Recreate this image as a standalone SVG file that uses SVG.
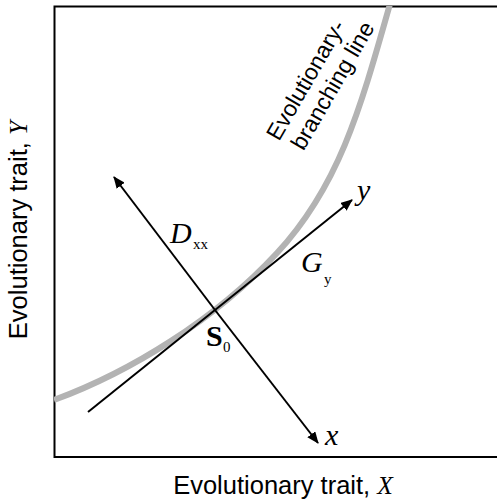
<svg xmlns="http://www.w3.org/2000/svg" width="497" height="502" viewBox="0 0 497 502">
<defs>
<style>
.ax{stroke:#000;stroke-width:2;fill:none}
.lab{font-family:"Liberation Sans",Arial,sans-serif;font-size:25.5px;fill:#000}
.bl{font-family:"Liberation Sans",Arial,sans-serif;font-size:23px;fill:#000}
.m{font-family:"Liberation Serif","Times New Roman",serif;font-size:30px;fill:#000}
.it{font-style:italic}
.sub{font-family:"Liberation Serif","Times New Roman",serif;font-size:15px;fill:#000}
</style>
<marker id="ah" viewBox="0 0 12 10" refX="11" refY="5" markerWidth="12" markerHeight="10" markerUnits="userSpaceOnUse" orient="auto">
<path d="M0,0 L12,5 L0,10 Z" fill="#000"/>
</marker>
<clipPath id="box"><rect x="54" y="6" width="450" height="451"/></clipPath>
</defs>
<rect width="497" height="502" fill="#fff"/>
<g id="frame">
<rect x="54.5" y="6.5" width="460" height="450.5" fill="none" stroke="#000" stroke-width="2"/>
</g>
<g id="branching-line">
<path d="M54,400 C130,372 215,320 277,253 S360,110 390,4" fill="none" stroke="#b3b3b3" stroke-width="6" clip-path="url(#box)"/>
<g transform="translate(279,142) rotate(-60)">
<text class="bl" x="0" y="0">Evolutionary-</text>
<text class="bl" x="4" y="26">branching line</text>
</g>
</g>
<g id="connectors">
<line class="ax" x1="88" y1="412" x2="352" y2="200" marker-end="url(#ah)"/>
<line class="ax" x1="215" y1="310" x2="114" y2="177" marker-end="url(#ah)"/>
<line class="ax" x1="215" y1="310" x2="318" y2="443" marker-end="url(#ah)"/>
</g>
<g id="labels">
<text class="m it" x="357" y="200">y</text>
<text class="m it" x="325" y="445">x</text>
<text class="m it" x="170" y="243">D</text><text class="sub" x="193" y="249">xx</text>
<text class="m it" x="301" y="272">G</text><text class="sub" x="324" y="284">y</text>
<text class="m" font-weight="bold" x="206" y="346">S</text><text class="sub" x="223" y="352">0</text>
</g>
<g id="axis-labels">
<text class="lab" x="283" y="494" text-anchor="middle">Evolutionary trait, <tspan font-family="Liberation Serif,serif" font-style="italic">X</tspan></text>
<text class="lab" transform="translate(27,230) rotate(-90)" x="0" y="0" text-anchor="middle">Evolutionary trait, <tspan font-family="Liberation Serif,serif" font-style="italic">Y</tspan></text>
</g>
</svg>
